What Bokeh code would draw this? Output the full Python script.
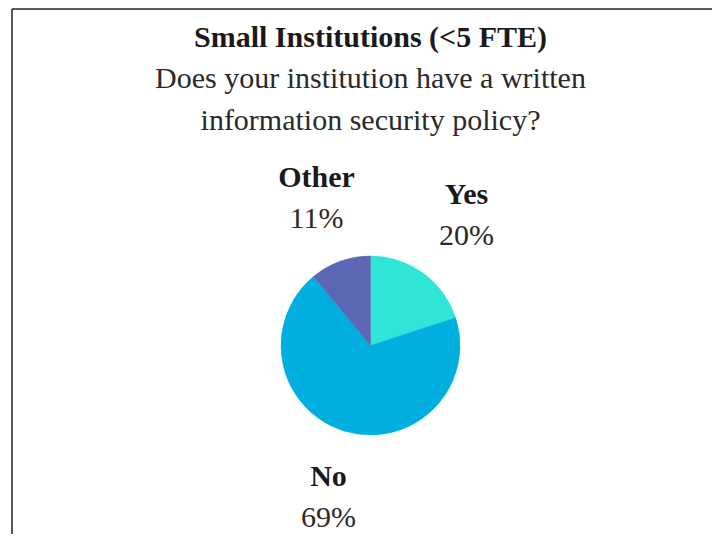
import math
from bokeh.plotting import figure
from bokeh.models import Range1d
from bokeh.core.properties import value
from bokeh.embed import file_html
from bokeh.resources import INLINE

# ---- data ----
categories = ["Yes", "No", "Other"]
percents = [20, 69, 11]
colors = ["#2FE6D6", "#00AEDF", "#5B67B5"]
title_lines = ["Small Institutions (<5 FTE)",
               "Does your institution have a written",
               "information security policy?"]

# ---- layout (screen-like coordinates) ----
W, H = 712, 534
p = figure(width=W, height=H, output_backend="svg", toolbar_location=None,
           x_range=Range1d(0, W), y_range=Range1d(0, H),
           min_border_left=0, min_border_right=0, min_border_top=0,
           min_border_bottom=0, outline_line_color=None)
p.axis.visible = False
p.grid.visible = False
p.background_fill_color = "white"
p.border_fill_color = "white"

def X(sx):
    return sx

def Y(sy):
    return H - sy

# frame border (left and top)
p.segment(x0=[X(11.5), X(11.5)], y0=[Y(8.5), Y(8.5)],
          x1=[X(11.5), X(W + 10)], y1=[Y(H + 10), Y(8.5)],
          line_color="#222222", line_width=1.5)

SERIF = value("Liberation Serif")
FS = "30px"
DY = -2

# title
p.text(x=[X(370)], y=[Y(38 + DY)], text=[title_lines[0]], text_font=SERIF,
       text_font_size=FS, text_font_style="bold", text_align="center",
       text_baseline="middle", text_color="#1a1a1a")
p.text(x=[X(370), X(370)], y=[Y(79 + DY), Y(121 + DY)], text=title_lines[1:],
       text_font=SERIF, text_font_size=FS, text_align="center",
       text_baseline="middle", text_color="#2a2a2a")

# pie
cx, cy, r = X(370), Y(345), 89.5
total = float(sum(percents))
starts, ends = [], []
cum = 0.0
for v in percents:
    a0 = math.pi / 2 - 2 * math.pi * (cum + v) / total
    a1 = math.pi / 2 - 2 * math.pi * cum / total
    starts.append(a0)
    ends.append(a1)
    cum += v
p.wedge(x=[cx] * len(percents), y=[cy] * len(percents), radius=r,
        start_angle=starts, end_angle=ends, fill_color=colors,
        line_color=colors, line_width=0.5)

# labels
label_pos = {"Yes": (466, 195), "No": (328, 477), "Other": (316, 178)}
lx = [X(label_pos[c][0]) for c in categories]
ly = [Y(label_pos[c][1] + DY) for c in categories]
py = [Y(label_pos[c][1] + 41 + DY) for c in categories]
p.text(x=lx, y=ly, text=categories, text_font=SERIF, text_font_size=FS,
       text_font_style="bold", text_align="center", text_baseline="middle",
       text_color="#1a1a1a")
p.text(x=lx, y=py, text=[f"{v}%" for v in percents], text_font=SERIF,
       text_font_size=FS, text_align="center", text_baseline="middle",
       text_color="#2a2a2a")

open("out.html", "w").write(file_html(p, INLINE))
